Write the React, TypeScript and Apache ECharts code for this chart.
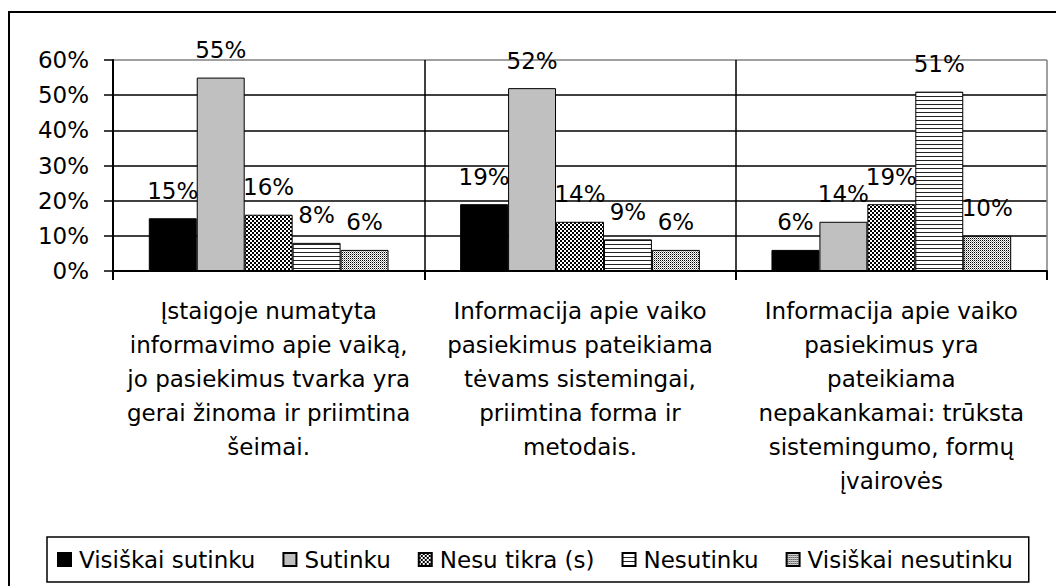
import React, { useEffect, useRef } from 'react';
import * as echarts from 'echarts';

const categories = [
  'Įstaigoje numatyta\ninformavimo apie vaiką,\njo pasiekimus tvarka yra\ngerai žinoma ir priimtina\nšeimai.',
  'Informacija apie vaiko\npasiekimus pateikiama\ntėvams sistemingai,\npriimtina forma ir\nmetodais.',
  'Informacija apie vaiko\npasiekimus yra\npateikiama\nnepakankamai: trūksta\nsistemingumo, formų\nįvairovės',
];
const seriesNames = ['Visiškai sutinku', 'Sutinku', 'Nesu tikra (s)', 'Nesutinku', 'Visiškai nesutinku'];
const visiskaiSutinku = [15, 19, 6];
const sutinku = [55, 52, 14];
const nesuTikra = [16, 14, 19];
const nesutinku = [8, 9, 51];
const visiskaiNesutinku = [6, 6, 10];
const seriesValues = [visiskaiSutinku, sutinku, nesuTikra, nesutinku, visiskaiNesutinku];
const yMin = 0;
const yMax = 60;
const yStep = 10;

const FONT = '"DejaVu Sans", "Liberation Sans", Arial, sans-serif';
const FS = 23;

function makeTile(w: number, h: number, draw: (ctx: CanvasRenderingContext2D) => void) {
  const c = document.createElement('canvas');
  c.width = w;
  c.height = h;
  const ctx = c.getContext('2d')!;
  ctx.fillStyle = '#fff';
  ctx.fillRect(0, 0, w, h);
  ctx.fillStyle = '#000';
  draw(ctx);
  return c;
}

export default function App() {
  const ref = useRef<HTMLDivElement>(null);
  useEffect(() => {
    if (!ref.current) return;
    const chart = echarts.init(ref.current, undefined, { renderer: 'svg' });

    const checker = makeTile(4, 4, (ctx) => {
      ctx.fillRect(0, 0, 2, 2);
      ctx.fillRect(2, 2, 2, 2);
    });
    const hlines = makeTile(4, 4, (ctx) => {
      ctx.fillStyle = '#222';
      ctx.fillRect(0, 0, 4, 1);
    });
    const dots = makeTile(2, 2, (ctx) => {
      ctx.fillRect(0, 0, 1, 1);
      ctx.fillStyle = '#999';
      ctx.fillRect(1, 1, 1, 1);
    });

    const fills: any[] = [
      '#000000',
      '#c0c0c0',
      { image: checker, repeat: 'repeat' },
      { image: hlines, repeat: 'repeat' },
      { image: dots, repeat: 'repeat' },
    ];

    const series = seriesNames.map((name, i) => ({
      name,
      type: 'bar',
      data: seriesValues[i],
      barGap: '0%',
      barCategoryGap: '23%',
      itemStyle: { color: fills[i], borderColor: '#000', borderWidth: 1 },
      label: {
        show: true,
        position: 'top',
        distance: 16,
        formatter: '{c}%',
        fontSize: FS,
        fontFamily: FONT,
        color: '#000',
      },
    }));

    chart.setOption({
      animation: false,
      backgroundColor: '#fff',
      textStyle: { fontFamily: FONT },
      graphic: [
        {
          type: 'rect',
          shape: { x: 9, y: 12, width: 1300, height: 1000 },
          style: { fill: 'none', stroke: '#000', lineWidth: 2 },
          silent: true,
          z: -1,
        },
      ],
      grid: { left: 113, top: 60, right: 9, bottom: 315, containLabel: false },
      legend: {
        show: true,
        left: 47,
        top: 537,
        data: seriesNames,
        icon: 'rect',
        itemWidth: 13,
        itemHeight: 13,
        itemGap: 27,
        padding: [11, 16, 11, 10],
        borderColor: '#000',
        borderWidth: 1.5,
        textStyle: { fontSize: FS, fontFamily: FONT, color: '#000', padding: [0, 0, 0, 3] },
      },
      xAxis: {
        type: 'category',
        data: categories,
        axisLine: { show: true, lineStyle: { color: '#000', width: 2 } },
        axisTick: { show: true, length: 9, lineStyle: { color: '#000', width: 2 } },
        splitLine: { show: true, lineStyle: { color: ['#000', '#000', '#000', '#808080'], width: 1.5 } },
        axisLabel: {
          interval: 0,
          margin: 23,
          fontSize: FS,
          lineHeight: 34,
          fontFamily: FONT,
          color: '#000',
          align: 'center',
        },
      },
      yAxis: {
        type: 'value',
        min: yMin,
        max: yMax,
        interval: yStep,
        axisLine: { show: true, lineStyle: { color: '#000', width: 2 } },
        axisTick: { show: true, length: 9, lineStyle: { color: '#000', width: 1.5 } },
        splitLine: {
          show: true,
          lineStyle: { color: ['#000', '#000', '#000', '#000', '#000', '#000', '#808080'], width: 1.5 },
        },
        axisLabel: {
          formatter: '{value}%',
          fontSize: FS,
          fontFamily: FONT,
          color: '#000',
          margin: 24,
        },
      },
      series,
    });
    return () => chart.dispose();
  }, []);
  return (
    <div
      ref={ref}
      style={{ position: 'fixed', left: 0, top: 0, width: 1056, height: 586, background: '#fff' }}
    />
  );
}
